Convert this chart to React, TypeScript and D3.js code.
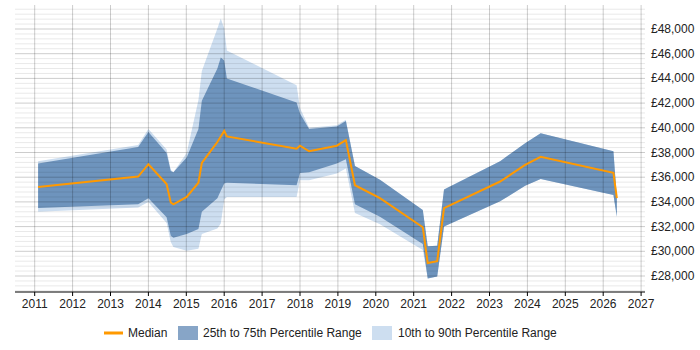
import React from "react";
import * as d3 from "d3";

// dates as decimal years
const dates = [
  2011.09, 2013.73, 2014.0, 2014.48, 2014.59, 2014.66, 2015.01, 2015.32, 2015.41,
  2015.82, 2015.91, 2016.0, 2016.07, 2017.91, 2018.0, 2018.24, 2018.97, 2019.21,
  2019.45, 2020.11, 2021.24, 2021.37, 2021.62, 2021.8, 2023.28, 2023.94, 2024.35,
  2026.27, 2026.36,
];
const median = [
  35200, 36050, 37050, 35450, 33950, 33800, 34400, 35550, 37150,
  38850, 39300, 39750, 39300, 38300, 38550, 38100, 38550, 39000,
  35350, 34300, 31950, 29050, 29200, 33500, 35650, 37000, 37650,
  36350, 34300,
];
const p75 = [
  37100, 38450, 39650, 37950, 36500, 36400, 37600, 39900, 42200,
  44800, 45700, 45450, 44000, 42050, 41150, 39900, 40100, 40550,
  36900, 35800, 33350, 30400, 30450, 35000, 37300, 38750, 39550,
  38100, 34300,
];
const p25 = [
  33500, 33800, 34300, 32750, 31250, 31100, 31400, 31800, 33200,
  34300, 34900, 35500, 35550, 35350, 36350, 36400, 37100, 37450,
  33800, 32800, 30600, 27800, 27950, 32000, 34050, 35300, 35850,
  34550, 32800,
];
const p90 = [
  37300, 38600, 39900, 38250, 36600, 36400, 37950, 42250, 44600,
  48050, 48850, 48050, 46250, 43450, 41600, 40000, 40200, 40650,
  36900, 35800, 33350, 30400, 30450, 35000, 37300, 38750, 39550,
  38100, 34300,
];
const p10 = [
  33200, 33550, 34000, 32300, 30750, 30350, 30050, 30200, 31400,
  31850, 32250, 34200, 34400, 34400, 35750, 35750, 36300, 36700,
  33100, 32200, 30100, 27800, 27950, 32000, 34050, 35300, 35850,
  34550, 32800,
];
const yearTicks = d3.range(2011, 2028);
const valueTicks = d3.range(28000, 48001, 2000);
const legendLabels = ["Median", "25th to 75th Percentile Range", "10th to 90th Percentile Range"];

const W = 700;
const H = 350;
const left = 15, right = 645, top = 5, bottom = 292;
const font = "'Liberation Sans', Arial, sans-serif";

export default function App() {
  const x = d3.scaleLinear().domain([2011, 2027]).range([34.7, 641.1]);
  const y = d3.scaleLinear().domain([28000, 48000]).range([276, 29]);

  const idx = dates.map((_, i) => i);
  const band = (lo: number[], hi: number[]) =>
    d3.area<number>().x((i) => x(dates[i])).y0((i) => y(lo[i])).y1((i) => y(hi[i]))(idx) || "";
  const line = d3.line<number>().x((i) => x(dates[i])).y((i) => y(median[i]))(idx) || "";

  const minor = d3.range(26800, 49700, 400).filter((v) => y(v) >= top && y(v) <= bottom);

  return (
    <svg width={W} height={H} style={{ position: "absolute", left: 0, top: 0, fontFamily: font }}>
      <rect width={W} height={H} fill="#fff" />
      <path d={band(p10, p90)} fill="#cddef0" />
      <path d={band(p25, p75)} fill="#6e94bd" />
      {minor.map((v) => (
        <line key={v} x1={left} x2={right} y1={y(v)} y2={y(v)}
          stroke="#000" strokeOpacity={v % 2000 === 0 ? 0.2 : 0.09} />
      ))}
      {yearTicks.map((t) => (
        <line key={t} x1={x(t)} x2={x(t)} y1={top} y2={bottom} stroke="#000" strokeOpacity={0.2} />
      ))}
      <path d={line} fill="none" stroke="#ff9900" strokeWidth={2} />
      <line x1={left} x2={right} y1={bottom} y2={bottom} stroke="#000" strokeWidth={1.2} />
      {yearTicks.map((t) => (
        <g key={t}>
          <line x1={x(t)} x2={x(t)} y1={bottom} y2={bottom + 4} stroke="#000" />
          <text x={x(t)} y={304} textAnchor="middle" dominantBaseline="central" fontSize={12} fill="#222">
            {t}
          </text>
        </g>
      ))}
      {valueTicks.map((v) => (
        <text key={v} x={651} y={y(v)} dominantBaseline="central" fontSize={12} fill="#222">
          {"£" + d3.format(",")(v)}
        </text>
      ))}
      <g fontSize={12} fill="#222">
        <line x1={104} x2={123} y1={333} y2={333} stroke="#ff9900" strokeWidth={3} />
        <text x={128} y={333} dominantBaseline="central">{legendLabels[0]}</text>
        <rect x={178} y={326} width={20} height={14} fill="#87a5c7" />
        <text x={203} y={333} dominantBaseline="central">{legendLabels[1]}</text>
        <rect x={372} y={326} width={20} height={14} fill="#cddef0" />
        <text x={398} y={333} dominantBaseline="central">{legendLabels[2]}</text>
      </g>
    </svg>
  );
}
